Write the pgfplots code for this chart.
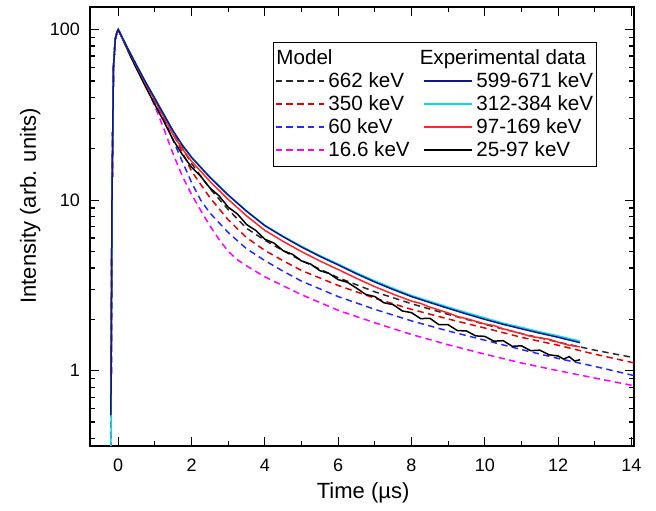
\documentclass[border=0pt]{standalone}
\usepackage{fontspec}
\setmainfont{Liberation Sans}
\usepackage{pgfplots}
\pgfplotsset{compat=1.18}
\definecolor{navyd}{RGB}{20,20,140}
\definecolor{cyand}{RGB}{0,220,230}
\definecolor{redd}{RGB}{255,40,40}
\definecolor{gdash}{RGB}{40,40,40}
\definecolor{rdash}{RGB}{225,0,0}
\definecolor{bdash}{RGB}{40,40,255}
\definecolor{mdash}{RGB}{255,0,255}
\newcommand{\ls}{\rule[-2.4pt]{0pt}{10pt}}
\begin{document}
\begin{tikzpicture}
\begin{axis}[
  name=ax, at={(0,0)}, anchor=south west,
  scale only axis, width=272pt, height=219.5pt,
  xmin=-0.77, xmax=14.07, ymode=log, ymin=0.362, ymax=135.6,
  xtick={0,2,4,6,8,10,12,14}, minor x tick num=1,
  ytick={1,10,100}, yticklabels={1,10,100},
  minor ytick={0.4,0.5,0.6,0.7,0.8,0.9,2,3,4,5,6,7,8,9,20,30,40,50,60,70,80,90},
  tick align=inside, major tick length=4.5pt, minor tick length=2.5pt,
  tick style={line width=0.6pt, black},
  axis line style={line width=0.9pt},
  /pgf/number format/assume math mode=true,
  ticklabel style={font=\fontsize{9}{10}\selectfont},
  yticklabel style={xshift=-1.5pt},
  xticklabel style={yshift=-3pt},
  xlabel={Time (µs)}, ylabel={Intensity (arb. units)},
  label style={font=\fontsize{11}{13}\selectfont},
  xlabel style={at={(axis description cs:0.502,-0.107)}, anchor=center},
  ylabel style={at={(axis description cs:-0.110,0.547)}, anchor=center},
  legend columns=2, legend cell align=left,
  legend image code/.code={\draw[#1] (0pt,0pt) -- (24pt,0pt);},
  legend style={at={(0.337,0.921)}, anchor=north west, draw=black, line width=0.5pt, fill=white,
    font=\fontsize{10.3}{12.4}\selectfont, inner xsep=0.5pt, inner ysep=2.5pt,
    nodes={inner sep=1pt},
    row sep=0.4pt, column sep=1pt,
    /tikz/column 2/.style={column sep=5.5pt}},
]
% Models
\addplot[forget plot, gdash, line width=0.75pt, dash pattern=on 3.2pt off 2.2pt] coordinates {
(-0.2,0.3) (-0.17,10) (-0.13,60) (-0.08,88) (-0.03,97) (0,100) (0.25,77.6) (0.5,61.0) (0.75,48.4) (1,38.9) (1.25,31.3) (1.5,25.1) (1.75,20.2) (2,16.4) (2.5,11.7) (3,8.81) (3.5,6.84) (4,5.82) (4.5,5.05) (5,4.42) (6,3.51) (7,2.90) (8,2.47) (9,2.14) (10,1.87) (11,1.65) (12,1.47) (13,1.32) (14,1.20) (14.3,1.16)};
\addplot[forget plot, rdash, line width=0.75pt, dash pattern=on 3.2pt off 2.2pt] coordinates {
(-0.2,0.3) (-0.17,10) (-0.13,60) (-0.08,88) (-0.03,97) (0,100) (0.25,77.6) (0.5,61.0) (0.75,48.4) (1,38.7) (1.25,30.9) (1.5,24.5) (1.75,19.1) (2,14.8) (2.5,10.35) (3,7.67) (3.5,6.03) (4,5.07) (4.5,4.41) (5,3.87) (6,3.16) (7,2.66) (8,2.29) (9,2.01) (10,1.78) (11,1.57) (12,1.41) (13,1.25) (14,1.12) (14.3,1.08)};
\addplot[forget plot, bdash, line width=0.75pt, dash pattern=on 3.2pt off 2.2pt] coordinates {
(-0.2,0.3) (-0.17,10) (-0.13,60) (-0.08,88) (-0.03,97) (0,100) (0.25,77.6) (0.5,60.7) (0.75,47.9) (1,38.0) (1.25,29.9) (1.5,22.4) (1.75,16.8) (2,12.7) (2.25,10.0) (2.5,8.41) (3,6.46) (3.5,5.19) (4,4.42) (4.5,3.83) (5,3.35) (6,2.72) (7,2.29) (8,1.96) (9,1.71) (10,1.51) (11,1.33) (12,1.18) (13,1.06) (14,0.944) (14.3,0.912)};
\addplot[forget plot, mdash, line width=0.75pt, dash pattern=on 3.2pt off 2.2pt] coordinates {
(-0.2,0.3) (-0.17,10) (-0.13,60) (-0.08,88) (-0.03,97) (0,100) (0.25,77.6) (0.5,61.0) (0.75,47.3) (1,35.5) (1.25,26.0) (1.5,18.6) (1.75,13.8) (2,10.8) (2.25,8.7) (2.5,7.08) (2.75,5.89) (3,5.01) (3.25,4.47) (3.5,4.12) (4,3.55) (5,2.79) (6,2.26) (7,1.91) (8,1.63) (9,1.42) (10,1.25) (11,1.11) (12,1.00) (13,0.906) (14,0.822) (14.3,0.80)};
% Experimental data
\addplot[forget plot, black, line width=0.75pt] coordinates {
(-0.2,0.55) (-0.17,10) (-0.13,60) (-0.08,88) (-0.03,97) (0,100) (0.25,76.4) (0.35,68.5) (0.5,58.9) (0.75,46.0) (1,36.3) (1.25,28.8) (1.5,22.5) (1.75,18.5) (2,15.6) (2.25,13.8) (2.5,11.8) (2.75,10.6) (3,9.1) (3.25,8.3) (3.5,7.2) (3.75,6.65) (4,5.9) (4.25,5.6) (4.5,5.05) (4.75,4.82) (5,4.4) (5.25,4.22) (5.5,3.86) (5.75,3.72) (6,3.42) (6.25,3.30) (6.5,3.05) (6.75,2.80) (7,2.72) (7.25,2.50) (7.5,2.44) (7.75,2.24) (8,2.19) (8.25,2.02) (8.5,2.03) (8.75,1.86) (9,1.86) (9.25,1.72) (9.5,1.71) (9.75,1.60) (10,1.59) (10.25,1.49) (10.5,1.50) (10.75,1.39) (11,1.40) (11.25,1.31) (11.5,1.32) (11.75,1.24) (12,1.22) (12.15,1.17) (12.3,1.21) (12.45,1.14) (12.6,1.16)};
\addplot[forget plot, redd, line width=0.75pt] coordinates {
(-0.2,0.55) (-0.17,10) (-0.13,60) (-0.08,88) (-0.03,97) (0,100) (0.25,77.8) (0.5,61.1) (0.75,48.1) (1,38.4) (1.25,30.5) (1.5,24.1) (1.75,20.0) (2,16.9) (2.5,12.9) (3,10.1) (3.5,8.09) (4,6.65) (4.5,5.73) (5,4.99) (5.5,4.40) (6,3.92) (6.5,3.48) (7,3.11) (7.5,2.81) (8,2.56) (8.25,2.48) (8.5,2.36) (9,2.18) (9.25,2.08) (9.5,2.02) (10,1.88) (10.25,1.84) (10.5,1.76) (11,1.65) (11.25,1.59) (11.5,1.56) (11.75,1.53) (12,1.47) (12.3,1.41) (12.6,1.38)};
\addplot[forget plot, cyand, line width=0.75pt] coordinates {
(-0.2,0.3) (-0.17,10) (-0.13,60) (-0.08,88) (-0.03,97) (0,100) (0.25,78.5) (0.5,61.9) (0.75,49.1) (1,39.5) (1.25,31.7) (1.5,25.2) (1.75,21.0) (2,17.9) (2.5,13.7) (3,10.75) (3.5,8.66) (4,7.12) (4.5,6.14) (5,5.36) (5.5,4.73) (6,4.22) (6.5,3.75) (7,3.36) (7.5,3.04) (8,2.76) (8.5,2.55) (9,2.36) (9.5,2.19) (10,2.04) (10.5,1.90) (11,1.795) (11.5,1.69) (12,1.60) (12.6,1.49)};
\addplot[forget plot, navyd, line width=0.75pt] coordinates {
(-0.2,0.55) (-0.17,10) (-0.13,60) (-0.08,88) (-0.03,97) (0,100) (0.25,78.2) (0.5,61.7) (0.75,49.0) (1,39.4) (1.25,31.6) (1.5,25.4) (1.75,21.0) (2,17.8) (2.5,13.6) (3,10.7) (3.5,8.61) (4,7.08) (4.5,6.10) (5,5.31) (5.5,4.68) (6,4.17) (6.5,3.70) (7,3.31) (7.5,2.99) (8,2.72) (8.5,2.51) (9,2.32) (9.5,2.15) (10,2.00) (10.5,1.87) (11,1.76) (11.5,1.66) (12,1.57) (12.6,1.46)};
% Legend
\addlegendimage{empty legend}\addlegendentry{\ls\rlap{\kern-26pt Model}}
\addlegendimage{empty legend}\addlegendentry{\ls\rlap{\kern-28.3pt Experimental data}}
\addlegendimage{gdash, line width=0.8pt, dash pattern=on 3.2pt off 2.2pt}\addlegendentry{\ls 662 keV}
\addlegendimage{navyd, line width=0.8pt}\addlegendentry{\ls 599-671 keV}
\addlegendimage{rdash, line width=0.8pt, dash pattern=on 3.2pt off 2.2pt}\addlegendentry{\ls 350 keV}
\addlegendimage{cyand, line width=0.8pt}\addlegendentry{\ls 312-384 keV}
\addlegendimage{bdash, line width=0.8pt, dash pattern=on 3.2pt off 2.2pt}\addlegendentry{\ls 60 keV}
\addlegendimage{redd, line width=0.8pt}\addlegendentry{\ls 97-169 keV}
\addlegendimage{mdash, line width=0.8pt, dash pattern=on 3.2pt off 2.2pt}\addlegendentry{\ls 16.6 keV}
\addlegendimage{black, line width=0.8pt}\addlegendentry{\ls 25-97 keV}
\end{axis}
\pgfresetboundingbox
\path[use as bounding box] ([xshift=-45pt,yshift=-32.5pt]ax.south west) rectangle ([xshift=11pt,yshift=3.5pt]ax.north east);
\end{tikzpicture}
\end{document}
